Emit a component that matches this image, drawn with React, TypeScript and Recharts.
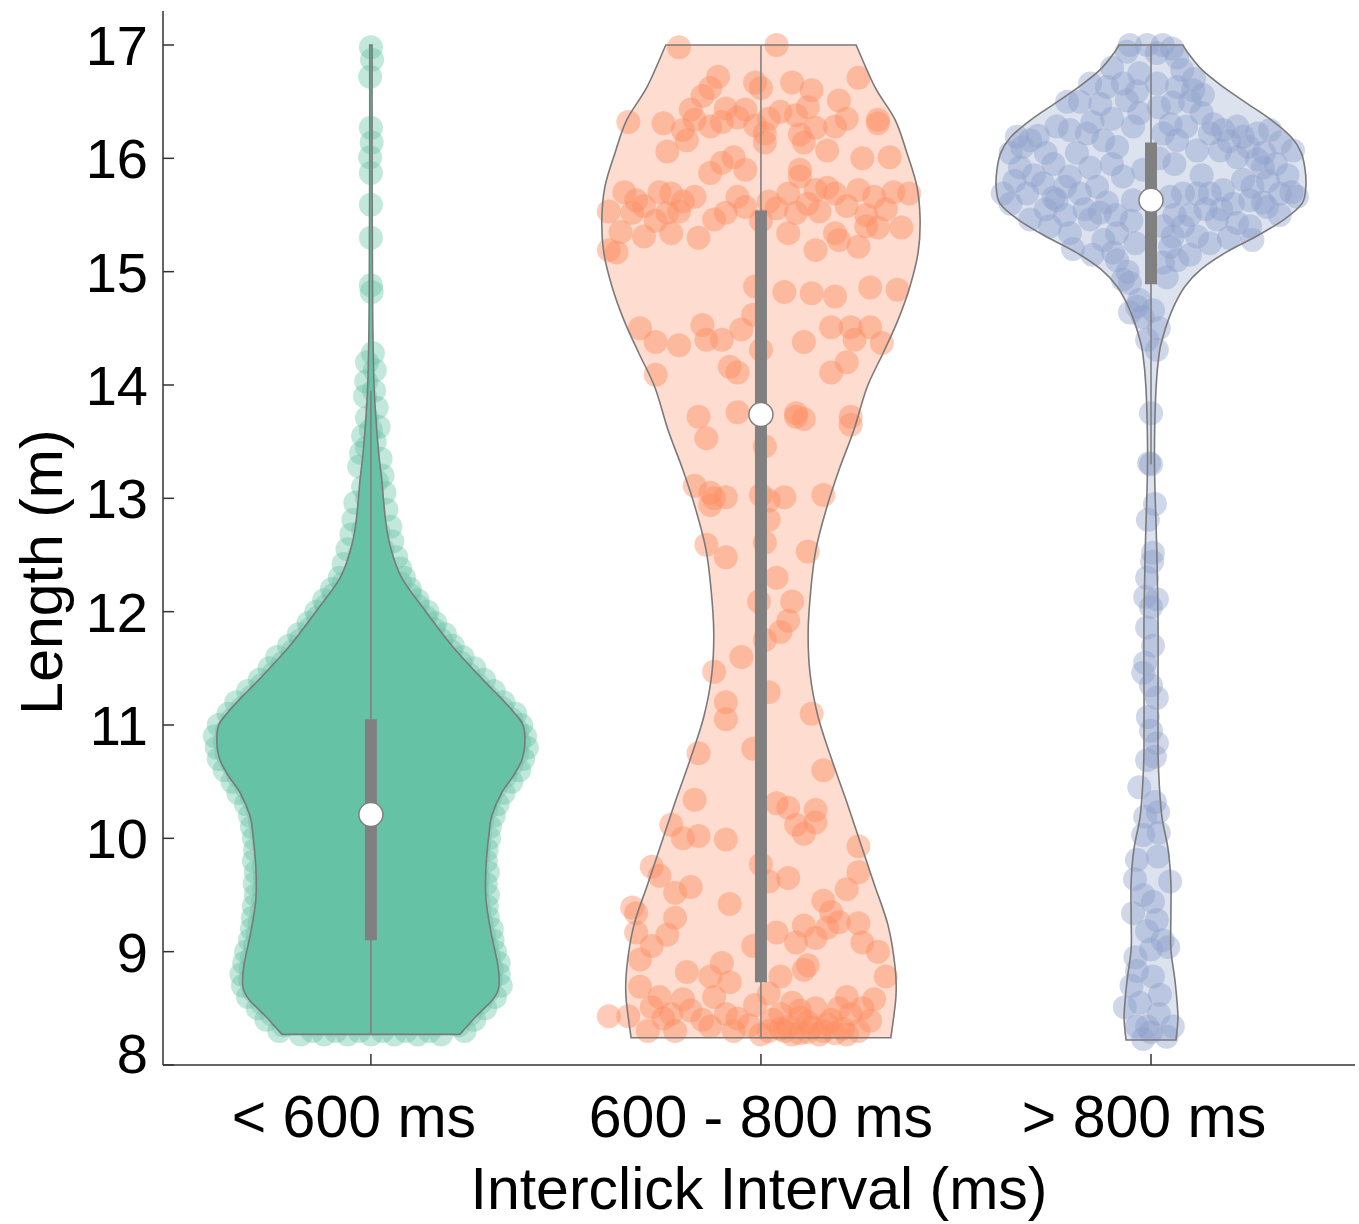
import { Scatter, ScatterChart, XAxis, YAxis } from 'recharts';

type Pair = [number, number];
type Pt = { x: number; y: number };

const FONT = '"Liberation Sans", Arial, sans-serif';
const AXIS_COLOR = '#333333';
const EDGE_COLOR = '#7a7a7a';
const INNER_COLOR = '#808080';

const CATEGORIES = ['< 600 ms', '600 - 800 ms', '> 800 ms'];
const LABEL_SHIFT = [-17, 0, -7];
const Y_TICKS = [8, 9, 10, 11, 12, 13, 14, 15, 16, 17];

// violin outlines, bottom to top: [length, half width in category units]
const shortProfile: Pair[] = [
  [8.27, 0.228], [8.43, 0.27], [8.58, 0.313], [8.69, 0.328], [8.87, 0.326], [9.17, 0.308],
  [9.46, 0.295], [9.75, 0.295], [10.05, 0.303], [10.2, 0.31], [10.4, 0.335], [10.55, 0.365],
  [10.7, 0.388], [10.85, 0.395], [11.0, 0.39], [11.11, 0.367], [11.25, 0.33], [11.4, 0.287],
  [11.69, 0.21], [12.0, 0.141], [12.28, 0.082], [12.5, 0.056], [12.72, 0.041], [12.96, 0.033],
  [13.16, 0.028], [13.4, 0.02], [13.7, 0.013], [14.0, 0.008], [14.5, 0.005], [15.0, 0.004],
  [16.0, 0.003], [17.0, 0.003],
];
const midProfile: Pair[] = [
  [8.24, 0.333], [8.6, 0.346], [8.86, 0.344], [9.23, 0.326], [9.6, 0.29], [9.97, 0.254],
  [10.34, 0.218], [10.71, 0.18], [11.08, 0.146], [11.45, 0.126], [11.82, 0.121], [12.2, 0.128],
  [12.55, 0.141], [12.9, 0.167], [13.25, 0.2], [13.6, 0.238], [13.98, 0.272], [14.28, 0.313],
  [14.57, 0.351], [14.87, 0.382], [15.17, 0.403], [15.46, 0.408], [15.75, 0.4], [16.05, 0.374],
  [16.34, 0.344], [16.63, 0.292], [17.0, 0.244],
];
const longProfile: Pair[] = [
  [8.22, 0.064], [8.43, 0.069], [8.73, 0.062], [9.02, 0.051], [9.31, 0.051], [9.61, 0.051],
  [9.9, 0.044], [10.19, 0.028], [10.49, 0.021], [10.78, 0.018], [11.34, 0.018], [11.93, 0.018],
  [12.52, 0.015], [13.1, 0.01], [13.5, 0.009], [13.98, 0.013], [14.28, 0.021], [14.43, 0.031],
  [14.57, 0.044], [14.72, 0.062], [14.87, 0.087], [15.02, 0.128], [15.17, 0.192], [15.31, 0.269],
  [15.46, 0.341], [15.6, 0.387], [15.75, 0.397], [15.9, 0.395], [16.05, 0.385], [16.19, 0.359],
  [16.34, 0.308], [16.49, 0.244], [16.63, 0.185], [16.78, 0.131], [16.93, 0.095], [17.0, 0.082],
];

// inner box: [whisker low, q1, median, q3, whisker high]
const shortBox = [8.27, 9.1, 10.21, 11.05, 13.95];
const midBox = [8.24, 8.73, 13.74, 15.54, 17.0];
const longBox = [13.3, 14.89, 15.63, 16.14, 17.0];

// observations: [offset from category centre, length]
const shortPoints: Pair[] = [
  [0.0, 16.98], [0.003, 16.87], [-0.002, 16.72], [0.0, 16.27], [0.002, 16.14], [-0.002, 16.01],
  [0.0, 15.87], [0.0, 15.59], [0.0, 15.3], [0.0, 14.88], [0.002, 14.82],
  [0.005, 14.28], [-0.01, 14.2], [0.01, 14.13], [-0.012, 14.03], [0.008, 13.95], [-0.015, 13.9],
  [0.015, 13.8], [-0.01, 13.71], [0.02, 13.63], [-0.02, 13.55], [0.01, 13.5], [-0.025, 13.4],
  [0.025, 13.35], [-0.03, 13.28], [0.03, 13.2], [-0.02, 13.1], [0.035, 13.05], [-0.04, 12.96],
  [0.04, 12.9], [-0.045, 12.81], [0.05, 12.75], [0.0, 12.85], [-0.05, 12.68], [0.055, 12.62],
  [0.0, 12.6], [-0.06, 12.55], [0.065, 12.48], [-0.07, 12.42], [0.075, 12.38],
  [0.02, 12.7], [-0.02, 12.72], [0.03, 12.55], [-0.03, 12.5], [0.04, 12.35], [-0.04, 12.33],
  [0.0, 12.45], [0.0, 12.3], [-0.01, 13.0], [0.015, 13.15], [-0.01, 13.45], [0.0, 13.6],
  [0.03, 12.25], [-0.05, 12.2], [0.06, 12.15],
  [-0.08, 12.3], [0.085, 12.3], [-0.1, 12.2], [0.1, 12.2], [-0.12, 12.1], [0.12, 12.1],
  [-0.14, 12.0], [0.145, 12.0], [-0.16, 11.9], [0.165, 11.9], [-0.185, 11.8], [0.19, 11.8],
  [-0.21, 11.7], [0.21, 11.7], [-0.24, 11.6], [0.235, 11.6], [-0.26, 11.5], [0.265, 11.5],
  [-0.285, 11.4], [0.29, 11.4], [-0.315, 11.3], [0.315, 11.3], [-0.345, 11.2], [0.34, 11.2],
  [-0.365, 11.1], [0.37, 11.1], [-0.39, 11.0], [0.385, 11.0], [-0.4, 10.9], [0.395, 10.9],
  [-0.395, 10.8], [0.4, 10.8], [-0.39, 10.7], [0.39, 10.7], [-0.375, 10.6], [0.38, 10.6],
  [-0.355, 10.5], [0.36, 10.5], [-0.34, 10.4], [0.34, 10.4], [-0.32, 10.3], [0.325, 10.3],
  [-0.31, 10.2], [0.315, 10.2], [-0.305, 10.1], [0.305, 10.1], [-0.3, 10.0], [0.303, 10.0],
  [-0.297, 9.9], [0.297, 9.9], [-0.3, 9.8], [0.295, 9.8], [-0.295, 9.7], [0.3, 9.7],
  [-0.298, 9.6], [0.295, 9.6], [-0.295, 9.5], [0.3, 9.5], [-0.3, 9.4], [0.297, 9.4],
  [-0.303, 9.3], [0.3, 9.3], [-0.305, 9.2], [0.31, 9.2], [-0.31, 9.1], [0.312, 9.1],
  [-0.32, 9.0], [0.318, 9.0], [-0.325, 8.9], [0.328, 8.9], [-0.332, 8.8], [0.328, 8.8],
  [-0.328, 8.7], [0.333, 8.7], [-0.315, 8.6], [0.318, 8.6], [-0.29, 8.5], [0.293, 8.5],
  [-0.268, 8.4], [0.265, 8.4], [-0.235, 8.3], [0.24, 8.3],
  [-0.18, 8.27], [-0.12, 8.27], [-0.06, 8.27], [0.0, 8.27], [0.06, 8.27], [0.12, 8.27], [0.18, 8.27],
  [-0.07, 12.25], [0.075, 12.25], [-0.095, 12.15], [0.1, 12.15], [-0.115, 12.05], [0.12, 12.05],
  [-0.135, 11.95], [0.14, 11.95], [-0.155, 11.85], [0.16, 11.85], [-0.18, 11.75], [0.18, 11.75],
  [-0.2, 11.65], [0.205, 11.65], [-0.225, 11.55], [0.23, 11.55], [-0.25, 11.45], [0.25, 11.45],
  [-0.28, 11.35], [0.275, 11.35], [-0.305, 11.25], [0.3, 11.25], [-0.33, 11.15], [0.335, 11.15],
  [-0.355, 11.05], [0.36, 11.05], [-0.37, 10.95], [0.375, 10.95], [-0.375, 10.85], [0.38, 10.85],
  [-0.37, 10.75], [0.375, 10.75], [-0.355, 10.65], [0.36, 10.65], [-0.34, 10.55], [0.345, 10.55],
  [-0.32, 10.45], [0.32, 10.45], [-0.305, 10.35], [0.305, 10.35], [-0.29, 10.25], [0.295, 10.25],
  [-0.285, 10.15], [0.285, 10.15], [-0.28, 10.05], [0.28, 10.05], [-0.275, 9.95], [0.278, 9.95],
  [-0.272, 9.85], [0.275, 9.85], [-0.275, 9.75], [0.272, 9.75], [-0.272, 9.65], [0.275, 9.65],
  [-0.274, 9.55], [0.272, 9.55], [-0.276, 9.45], [0.275, 9.45], [-0.28, 9.35], [0.278, 9.35],
  [-0.285, 9.25], [0.284, 9.25], [-0.29, 9.15], [0.29, 9.15], [-0.297, 9.05], [0.296, 9.05],
  [-0.305, 8.95], [0.303, 8.95], [-0.308, 8.85], [0.31, 8.85], [-0.31, 8.75], [0.308, 8.75],
  [-0.3, 8.65], [0.3, 8.65], [-0.28, 8.55], [0.28, 8.55], [-0.255, 8.45], [0.255, 8.45],
  [-0.225, 8.35], [0.225, 8.35],
  [-0.15, 8.3], [-0.09, 8.3], [-0.03, 8.3], [0.03, 8.3], [0.09, 8.3], [0.15, 8.3],
  [-0.2, 10.6], [0.1, 10.9], [-0.05, 9.5], [0.2, 9.2], [-0.15, 8.9], [0.08, 11.4], [-0.1, 11.8],
  [0.15, 10.2], [-0.22, 9.9], [0.02, 8.6],
];
const midPoints: Pair[] = [
  [-0.21, 16.98], [0.04, 17.0], [-0.11, 16.72], [-0.13, 16.62], [-0.015, 16.67], [0.0, 16.62],
  [0.08, 16.67], [0.25, 16.71], [0.2, 16.51], [-0.34, 16.32], [-0.25, 16.31], [-0.18, 16.43],
  [-0.17, 16.34], [-0.13, 16.28], [-0.09, 16.44], [-0.06, 16.36], [-0.04, 16.43], [-0.015, 16.29],
  [0.01, 16.22], [0.05, 16.41], [0.09, 16.38], [0.1, 16.21], [0.14, 16.27], [0.19, 16.28],
  [0.3, 16.34], [0.3, 16.31], [-0.24, 16.06], [-0.19, 16.16], [0.01, 16.14], [0.11, 16.14],
  [0.17, 16.07], [0.26, 16.0], [0.33, 16.01], [-0.13, 15.87], [-0.1, 15.96], [-0.07, 16.01],
  [-0.04, 15.9], [0.1, 15.9], [-0.35, 15.7], [-0.32, 15.63], [-0.26, 15.7], [-0.23, 15.69],
  [-0.17, 15.66], [-0.39, 15.53], [-0.33, 15.52], [-0.24, 15.52], [-0.21, 15.53], [-0.12, 15.46],
  [-0.09, 15.52], [-0.04, 15.57], [0.04, 15.56], [0.07, 15.69], [0.1, 15.84], [0.09, 15.52],
  [0.14, 15.72], [0.17, 15.74], [0.19, 15.69], [0.25, 15.72], [0.29, 15.66], [0.34, 15.7],
  [0.38, 15.69], [0.15, 15.53], [-0.3, 15.31], [-0.23, 15.34], [-0.16, 15.3], [-0.39, 15.19],
  [-0.37, 15.17], [0.07, 15.34], [0.19, 15.34], [0.27, 15.4], [0.3, 15.39], [0.36, 15.39],
  [0.14, 15.19], [0.2, 15.28], [0.25, 15.22], [-0.015, 14.87], [0.06, 14.82], [0.13, 14.81],
  [0.19, 14.78], [0.28, 14.86], [0.35, 14.84], [-0.31, 14.5], [-0.27, 14.38], [-0.21, 14.35],
  [-0.15, 14.53], [-0.14, 14.4], [-0.1, 14.4], [-0.05, 14.49], [0.0, 14.31], [0.11, 14.38],
  [0.18, 14.51], [0.23, 14.51], [0.28, 14.51], [0.31, 14.37], [0.22, 14.2], [-0.27, 14.09],
  [-0.08, 14.16], [-0.06, 14.11], [0.18, 14.11], [0.09, 13.75],
  [-0.16, 13.72], [-0.14, 13.53], [-0.06, 13.76], [0.01, 13.46], [0.09, 13.72], [0.11, 13.7],
  [0.23, 13.72], [0.23, 13.65], [-0.17, 13.11], [-0.13, 13.05], [-0.12, 13.0], [-0.09, 13.01],
  [-0.13, 12.94], [0.0, 13.03], [0.02, 12.98], [0.06, 13.01], [0.16, 13.03], [0.02, 12.81],
  [-0.14, 12.59], [-0.09, 12.48], [0.01, 12.61], [0.12, 12.53], [-0.005, 12.09], [0.08, 12.09],
  [0.07, 11.92], [0.05, 11.82], [0.01, 11.75], [-0.12, 11.47], [0.02, 11.29], [-0.09, 11.2],
  [-0.09, 11.05], [0.13, 11.1], [-0.16, 10.75], [-0.02, 10.79], [-0.17, 10.34], [-0.23, 10.12],
  [-0.16, 10.02], [-0.09, 9.99], [0.04, 10.31], [0.07, 10.27], [0.14, 10.25], [0.09, 10.12],
  [0.14, 10.14], [0.11, 10.04], [0.25, 9.93], [-0.28, 9.75], [-0.26, 9.67], [-0.22, 9.52],
  [-0.18, 9.57], [-0.08, 9.42], [0.0, 9.77], [0.02, 9.62], [0.07, 9.65], [0.25, 9.7],
  [-0.32, 9.34], [-0.32, 9.17], [-0.22, 9.3], [-0.28, 9.05], [-0.31, 8.93], [0.16, 9.45],
  [0.18, 9.35], [0.04, 9.17], [0.11, 9.23], [0.14, 9.12], [0.17, 9.21], [0.2, 9.26],
  [0.25, 9.25], [0.26, 9.08], [0.09, 9.08], [-0.02, 9.05], [-0.19, 8.82], [-0.1, 8.9],
  [-0.13, 8.78], [-0.08, 8.73], [-0.31, 8.69], [0.05, 8.78], [0.11, 8.84], [0.12, 8.88],
  [0.32, 8.78], [-0.34, 8.43], [-0.28, 8.51], [-0.25, 8.41], [-0.2, 8.58], [-0.18, 8.48],
  [-0.12, 8.6], [-0.13, 8.34], [-0.06, 8.41], [-0.015, 8.53], [0.02, 8.63], [0.05, 8.45],
  [0.07, 8.34], [0.1, 8.48], [0.12, 8.38], [0.16, 8.3], [0.22, 8.6], [0.23, 8.45],
  [0.28, 8.39], [0.29, 8.58], [-0.29, 8.3], [-0.22, 8.3], [-0.07, 8.3], [0.02, 8.3],
  [0.1, 8.28], [0.19, 8.28], [0.25, 8.3], [0.05, 8.32], [0.13, 8.33], [0.17, 8.36],
  [0.08, 8.27], [0.21, 8.32], [-0.03, 8.35], [0.0, 8.27], [-0.39, 8.43], [-0.33, 9.39],
  [-0.3, 15.58], [-0.27, 15.45], [-0.2, 15.62], [-0.06, 15.66], [0.0, 15.45], [0.02, 15.62],
  [0.12, 15.6], [0.22, 15.58], [0.32, 15.55], [0.27, 15.5], [-0.2, 16.25], [-0.1, 16.32],
  [0.02, 16.35], [0.12, 16.45], [0.22, 16.35], [-0.15, 16.55], [0.13, 16.6], [-0.36, 15.35],
  [-0.02, 14.62], [0.24, 14.4], [0.1, 8.42], [0.14, 8.5], [0.18, 8.4], [0.03, 8.4],
  [-0.09, 8.45], [-0.23, 8.45], [0.2, 8.5], [0.26, 8.5], [0.08, 8.55], [-0.15, 8.4],
  [0.06, 8.3], [0.15, 8.27], [0.22, 8.27], [0.12, 8.29], [-0.26, 8.6], [0.3, 9.0],
  [-0.24, 9.15], [0.22, 9.55], [-0.2, 10.0], [0.16, 10.6], [-0.05, 11.6], [0.04, 12.3],
];
const longPoints: Pair[] = [
  [-0.054, 17.0], [-0.01, 17.0], [0.03, 17.0], [0.054, 16.97], [-0.062, 16.94], [0.015, 16.93],
  [0.067, 16.89], [-0.156, 16.66], [-0.113, 16.63], [-0.072, 16.66], [-0.036, 16.59], [0.015, 16.66],
  [0.067, 16.63], [0.108, 16.6], [0.133, 16.56], [-0.215, 16.5], [-0.182, 16.5], [-0.062, 16.51],
  [0.056, 16.49], [0.1, 16.5], [-0.344, 16.19], [-0.31, 16.16], [-0.36, 16.05], [-0.242, 16.28],
  [-0.208, 16.25], [-0.164, 16.22], [-0.122, 16.16], [-0.087, 16.1], [-0.046, 16.28], [0.031, 16.22],
  [0.067, 16.16], [0.118, 16.07], [0.151, 16.22], [0.185, 16.25], [0.221, 16.28], [0.236, 16.19],
  [0.272, 16.22], [0.305, 16.25], [0.331, 16.14], [0.364, 16.07], [0.177, 16.07], [0.221, 16.01],
  [0.272, 15.99], [-0.38, 15.69], [-0.336, 15.92], [-0.318, 15.69], [-0.277, 15.78], [-0.242, 15.63],
  [-0.208, 15.84], [-0.182, 15.69], [-0.156, 15.92], [-0.138, 15.75], [-0.113, 15.61], [-0.072, 15.84],
  [-0.046, 15.63], [0.049, 15.66], [0.082, 15.69], [0.118, 15.69], [0.151, 15.69], [0.185, 15.72],
  [0.236, 15.81], [0.287, 15.92], [0.287, 15.61], [0.331, 15.69], [0.374, 15.66], [0.254, 15.63],
  [-0.31, 15.46], [-0.259, 15.4], [-0.208, 15.34], [-0.156, 15.46], [-0.131, 15.52], [-0.122, 15.28],
  [-0.087, 15.34], [-0.097, 15.17], [0.031, 15.4], [0.049, 15.22], [0.082, 15.4], [0.118, 15.31],
  [0.169, 15.46], [0.221, 15.43], [0.254, 15.4], [0.297, 15.57], [0.151, 15.25], [0.056, 15.31],
  [-0.087, 15.1], [-0.072, 14.93], [-0.054, 14.9], [0.031, 15.08], [0.067, 15.1], [-0.036, 14.69],
  [-0.054, 14.64], [0.005, 14.66], [-0.021, 14.6],
  [-0.33, 16.1], [-0.29, 16.2], [-0.27, 16.05], [-0.25, 15.95], [-0.3, 15.85], [-0.35, 15.8],
  [-0.22, 15.75], [-0.19, 16.05], [-0.15, 16.32], [-0.1, 16.35], [-0.03, 16.4], [0.02, 16.45],
  [0.05, 16.3], [0.09, 16.28], [0.13, 16.4], [0.16, 16.3], [0.2, 16.15], [0.25, 16.1],
  [0.29, 16.05], [0.32, 15.95], [0.35, 15.85], [0.3, 15.8], [0.26, 15.75], [0.21, 15.6],
  [0.18, 15.55], [0.14, 15.55], [0.1, 15.5], [0.06, 15.5], [-0.05, 15.45], [-0.09, 15.5],
  [-0.17, 15.55], [-0.22, 15.5], [-0.27, 15.55], [-0.2, 15.2], [-0.15, 15.15], [-0.04, 15.25],
  [0.1, 15.15], [0.2, 15.3], [0.26, 15.28], [-0.06, 15.0], [0.04, 14.95], [-0.1, 16.8],
  [0.08, 16.78], [-0.03, 16.75], [0.11, 16.7], [-0.13, 16.48], [0.02, 16.0], [-0.02, 15.9],
  [0.06, 15.95], [-0.1, 15.95], [0.13, 15.85], [-0.25, 15.65], [0.36, 15.7], [-0.36, 15.6],
  [0.33, 15.5], [-0.03, 14.75], [0.02, 14.5], [-0.01, 14.4],
  [0.015, 14.31], [0.0, 13.75], [-0.005, 13.31], [-0.008, 12.81], [0.005, 12.52], [0.003, 12.44],
  [-0.015, 12.13], [0.015, 12.11], [0.0, 12.04], [-0.01, 11.86], [-0.015, 11.55], [-0.02, 11.46],
  [0.015, 11.24], [-0.008, 11.07], [0.015, 10.84], [-0.01, 10.69], [0.01, 10.72], [0.01, 10.32],
  [0.018, 10.23], [-0.015, 10.19], [-0.02, 10.03], [-0.036, 9.81], [0.018, 9.84], [-0.041, 9.64],
  [0.049, 9.62], [0.005, 9.44], [-0.046, 9.34], [0.015, 9.28], [-0.01, 9.18], [0.0, 9.02],
  [0.044, 9.04], [-0.036, 8.83], [0.005, 8.78], [0.023, 8.62], [-0.067, 8.51], [-0.028, 8.55],
  [-0.036, 8.34], [-0.01, 8.34], [0.056, 8.34], [-0.02, 8.23], [0.0, 8.29],
  [0.0, 13.3], [0.01, 12.95], [-0.01, 12.3], [0.005, 11.7], [0.0, 11.35], [0.0, 10.95],
  [-0.03, 10.45], [0.02, 10.05], [-0.02, 9.5], [0.03, 9.1], [-0.04, 8.95], [0.02, 8.45],
  [-0.05, 8.7], [0.04, 8.25],
];

const GROUPS = [
  { center: 0, profile: shortProfile, box: shortBox, points: shortPoints, color: '#66c2a5', bodyOpacity: 1, dotOpacity: 0.4 },
  { center: 1, profile: midProfile, box: midBox, points: midPoints, color: '#fc8d62', bodyOpacity: 0.3, dotOpacity: 0.45 },
  { center: 2, profile: longProfile, box: longBox, points: longPoints, color: '#8da0cb', bodyOpacity: 0.3, dotOpacity: 0.42 },
];

// left edge bottom->top, then right edge top->bottom
const violinData = (profile: Pair[], center: number) => [
  ...profile.map(([y, w]) => ({ x: center - w, y })),
  ...profile.slice().reverse().map(([y, w]) => ({ x: center + w, y })),
];

const catmull = (pts: Pt[]) => {
  let d = '';
  for (let i = 0; i < pts.length - 1; i++) {
    const p0 = pts[i - 1] || pts[i];
    const p1 = pts[i];
    const p2 = pts[i + 1];
    const p3 = pts[i + 2] || p2;
    const c1x = p1.x + (p2.x - p0.x) / 6;
    const c1y = p1.y + (p2.y - p0.y) / 6;
    const c2x = p2.x - (p3.x - p1.x) / 6;
    const c2y = p2.y - (p3.y - p1.y) / 6;
    d += ` C${c1x},${c1y} ${c2x},${c2y} ${p2.x},${p2.y}`;
  }
  return d;
};

const violinPath = (points: Pt[]) => {
  const n = points.length / 2;
  const left = points.slice(0, n);
  const right = points.slice(n);
  return `M${left[0].x},${left[0].y}${catmull(left)} L${right[0].x},${right[0].y}${catmull(right)} Z`;
};

const noDot = () => <g />;

const XTick = ({ x, y, payload }: any) => (
  <g>
    <line x1={x} y1={y} x2={x} y2={y - 11} stroke={AXIS_COLOR} strokeWidth={1.5} />
    <text
      x={x + LABEL_SHIFT[payload.value]}
      y={y + 72}
      textAnchor="middle"
      fontSize={59}
      fontFamily={FONT}
      fill="#000"
    >
      {CATEGORIES[payload.value]}
    </text>
  </g>
);

const YTick = ({ x, y, payload }: any) => (
  <g>
    <line x1={x} y1={y} x2={x + 11} y2={y} stroke={AXIS_COLOR} strokeWidth={1.5} />
    <text
      x={x - 15}
      y={payload.value === 8 ? y - 12 : y}
      dy="0.36em"
      textAnchor="end"
      fontSize={56}
      fontFamily={FONT}
      fill="#000"
    >
      {payload.value}
    </text>
  </g>
);

const YLabel = ({ viewBox }: any) => {
  const cx = viewBox.x + 42;
  const cy = viewBox.y + viewBox.height / 2 + 34;
  return (
    <text
      x={cx}
      y={cy}
      transform={`rotate(-90 ${cx} ${cy})`}
      textAnchor="middle"
      dominantBaseline="central"
      fontSize={59}
      fontFamily={FONT}
      fill="#000"
    >
      Length (m)
    </text>
  );
};

const XLabel = ({ viewBox }: any) => (
  <text
    x={viewBox.x + viewBox.width / 2}
    y={viewBox.y + 144}
    textAnchor="middle"
    fontSize={59}
    fontFamily={FONT}
    fill="#000"
  >
    Interclick Interval (ms)
  </text>
);

export default function App() {
  const medians = GROUPS.map((g) => ({ x: g.center, y: g.box[2] }));

  return (
    <div style={{ position: 'absolute', left: 0, top: 0, background: '#fff' }}>
      <ScatterChart width={1359} height={1224} margin={{ top: 11, right: 4, bottom: 0, left: 0 }}>
        <XAxis
          type="number"
          dataKey="x"
          domain={[-0.533, 2.523]}
          ticks={[0, 1, 2]}
          interval={0}
          height={159}
          allowDataOverflow
          axisLine={{ stroke: AXIS_COLOR, strokeWidth: 1.5 }}
          tickLine={false}
          tickSize={0}
          tickMargin={0}
          tick={<XTick />}
          label={<XLabel />}
        />
        <YAxis
          type="number"
          dataKey="y"
          domain={[8, 17.3]}
          ticks={Y_TICKS}
          interval={0}
          width={163}
          allowDataOverflow
          axisLine={{ stroke: AXIS_COLOR, strokeWidth: 1.5 }}
          tickLine={false}
          tickSize={0}
          tickMargin={0}
          tick={<YTick />}
          label={<YLabel />}
        />

        {GROUPS.map((g) => (
          <Scatter
            key={`body-${g.center}`}
            data={violinData(g.profile, g.center)}
            shape={noDot}
            line={(p: any) => (
              <path d={violinPath(p.points)} fill={g.color} fillOpacity={g.bodyOpacity} stroke="none" />
            )}
            isAnimationActive={false}
          />
        ))}

        {GROUPS.map((g) => (
          <Scatter
            key={`pts-${g.center}`}
            data={g.points.map(([dx, y]) => ({ x: g.center + dx, y }))}
            shape={(p: any) => (
              <circle cx={p.cx} cy={p.cy} r={12} fill={g.color} fillOpacity={g.dotOpacity} />
            )}
            isAnimationActive={false}
          />
        ))}

        {GROUPS.map((g) => (
          <Scatter
            key={`edge-${g.center}`}
            data={violinData(g.profile, g.center)}
            shape={noDot}
            line={(p: any) => (
              <path d={violinPath(p.points)} fill="none" stroke={EDGE_COLOR} strokeWidth={1.6} />
            )}
            isAnimationActive={false}
          />
        ))}

        {GROUPS.map((g) => (
          <Scatter
            key={`whisker-${g.center}`}
            data={[{ x: g.center, y: g.box[0] }, { x: g.center, y: g.box[4] }]}
            shape={noDot}
            line={(p: any) => (
              <line
                x1={p.points[0].x}
                y1={p.points[0].y}
                x2={p.points[1].x}
                y2={p.points[1].y}
                stroke={INNER_COLOR}
                strokeWidth={1.6}
              />
            )}
            isAnimationActive={false}
          />
        ))}

        {GROUPS.map((g) => (
          <Scatter
            key={`box-${g.center}`}
            data={[{ x: g.center, y: g.box[1] }, { x: g.center, y: g.box[3] }]}
            shape={noDot}
            line={(p: any) => (
              <line
                x1={p.points[0].x}
                y1={p.points[0].y}
                x2={p.points[1].x}
                y2={p.points[1].y}
                stroke={INNER_COLOR}
                strokeWidth={12}
              />
            )}
            isAnimationActive={false}
          />
        ))}

        <Scatter
          data={medians}
          shape={(p: any) => (
            <circle cx={p.cx} cy={p.cy} r={12} fill="#ffffff" stroke={INNER_COLOR} strokeWidth={1.5} />
          )}
          isAnimationActive={false}
        />
      </ScatterChart>
    </div>
  );
}
